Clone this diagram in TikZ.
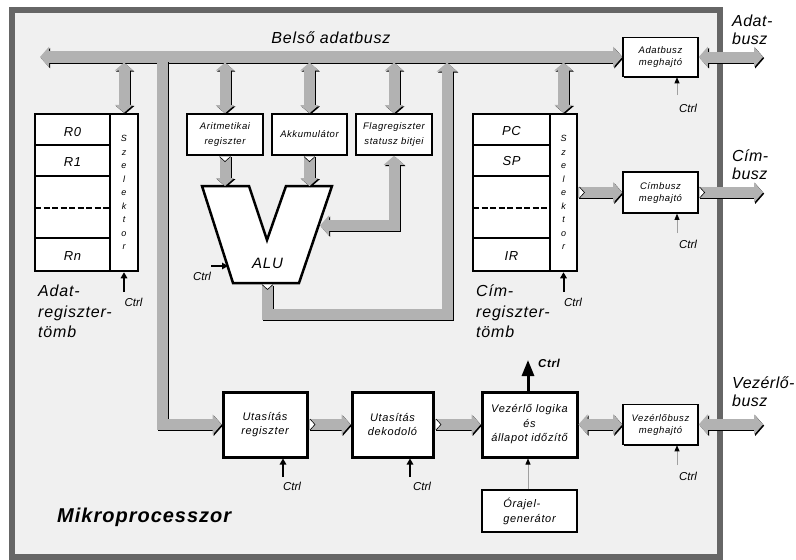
\documentclass[tikz,border=0pt]{standalone}
\usepackage{fontspec}
\setmainfont{Liberation Sans}
\newfontfamily\spA{Liberation Sans}[LetterSpace=3]
\newfontfamily\spB{Liberation Sans}[LetterSpace=5]
\newfontfamily\spC{Liberation Sans Italic}[LetterSpace=6]
\usetikzlibrary{arrows.meta,shadows}
\definecolor{bgc}{HTML}{F0F0F0}
\definecolor{framec}{HTML}{666666}
\definecolor{busgray}{HTML}{B2B2B2}
\definecolor{thinc}{HTML}{A0A0A0}
\newcommand\ftreg{\spC\fontsize{9.5}{15}\selectfont}
\newcommand\ftdrv{\spC\fontsize{9.5}{12}\selectfont}
\newcommand\ftbig{\spC\fontsize{11}{14.5}\selectfont}
\newcommand\ftora{\spC\fontsize{11}{15}\selectfont}
\newcommand\ftlbl{\spA\fontsize{16}{18}\selectfont\itshape}
\newcommand\ftlblb{\spB\fontsize{16}{20.5}\selectfont\itshape}
\newcommand\ftctrl{\fontsize{11.5}{13}\selectfont\itshape}
\newcommand\ftrn{\spB\fontsize{13}{15}\selectfont\itshape}
\newcommand\ftsel{\fontsize{9}{13.5}\selectfont\itshape}
\newcommand\busarrow[2]{%
  \draw[bus,#1,draw=black,transform canvas={shift={(1.2pt,-1.2pt)}}] #2;%
  \draw[bus,#1] #2;}
\tikzset{
  bus/.style={line width=11pt, draw=busgray, line join=miter},
  hb/.style={line width=12pt},
  bh/.style={-{Triangle[length=9pt,width=20pt]}},
  bhh/.style={{Triangle[length=9pt,width=20pt]}-{Triangle[length=9pt,width=20pt]}},
  vhh/.style={{Triangle[length=8pt,width=18pt]}-{Triangle[length=8pt,width=18pt]}},
  vh/.style={-{Triangle[length=8pt,width=18pt]}},
  smallbox/.style={draw, fill=white, line width=1.6pt, inner sep=0pt, align=center,
     drop shadow={shadow xshift=1.3pt, shadow yshift=-1.3pt, fill=black, opacity=1}},
  bigbox/.style={draw, fill=white, line width=3pt, inner sep=0pt, align=center},
  regblk/.style={draw, fill=white, line width=2.5pt, inner sep=0pt},
  rowline/.style={line width=2.2pt},
  dashrow/.style={line width=2.2pt, dash pattern=on 6pt off 2.5pt},
  ctrlthick/.style={line width=2pt, -{Triangle[length=6pt,width=6.5pt]}},
  ctrlthin/.style={line width=0.7pt, draw=thinc, -{Triangle[length=6pt,width=5pt,color=black]}},
  ctrltxt/.style={font=\ftctrl, inner sep=0pt, anchor=base},
  notch/.style={fill=white, draw=black, line width=0.6pt},
  rlbl/.style={font=\ftrn, inner sep=0pt, anchor=base},
}
\begin{document}
\begin{tikzpicture}[x=1pt,y=-1pt]
\useasboundingbox (0,0) rectangle (796,560);
\fill[white] (0,0) rectangle (796,560);
\draw[draw=framec, line width=6pt, fill=bgc] (12,10) rectangle (720,557);

% coordinates
\coordinate (busL) at (40,57);
\coordinate (bb) at (0,62.5);
\coordinate (vb) at (162,61);
\coordinate (alutop) at (0,186);
\coordinate (aluout) at (267.5,284.5);
\coordinate (aluturn) at (447,314);
\coordinate (busJ) at (447,62.5);
\coordinate (aluR) at (320,225.5);
\coordinate (adout) at (763,57);
\coordinate (cout) at (763,192.5);
\coordinate (vout) at (763,424.5);

% register blocks
\node[regblk, minimum width=103pt, minimum height=157pt] (adblk) at (86.5,192.5) {};
\node[regblk, minimum width=28pt, minimum height=157pt, font=\ftsel, align=center] (adsel) at (124,192.5) {S\\z\\e\\l\\e\\k\\t\\o\\r};
\draw[rowline] (35,145) -- (110,145);
\draw[rowline] (35,176) -- (110,176);
\draw[rowline] (35,238) -- (110,238);
\draw[dashrow] (35,208) -- (110,208);
\node[rlbl] (r0) at (72.5,136) {R0};
\node[rlbl] (r1) at (72.5,166) {R1};
\node[rlbl] (rn) at (72.5,260) {Rn};

\node[regblk, minimum width=104pt, minimum height=157pt] (cblk) at (525,192.5) {};
\node[regblk, minimum width=27pt, minimum height=157pt, font=\ftsel, align=center] (cimsel) at (563.5,192.5) {S\\z\\e\\l\\e\\k\\t\\o\\r};
\draw[rowline] (473,145) -- (550,145);
\draw[rowline] (473,176) -- (550,176);
\draw[rowline] (473,238) -- (550,238);
\draw[dashrow] (473,208) -- (550,208);
\node[rlbl] (pc) at (511.5,135) {PC};
\node[rlbl] (sp) at (511.5,165) {SP};
\node[rlbl] (ir) at (511.5,260) {IR};

% small boxes
\node[smallbox, minimum width=76pt, minimum height=41pt, font=\ftreg] (arit) at (225,134.5) {Aritmetikai\\regiszter};
\node[smallbox, minimum width=75pt, minimum height=41pt, font=\ftreg] (akku) at (309.5,134.5) {Akkumulátor};
\node[smallbox, minimum width=76pt, minimum height=41pt, font=\ftreg] (flag) at (394,134.5) {Flagregiszter\\statusz bitjei};
\node[smallbox, minimum width=75pt, minimum height=39pt, font=\ftdrv] (adm) at (660.5,57) {Adatbusz\\meghajtó};
\node[smallbox, minimum width=75pt, minimum height=41pt, font=\ftdrv] (cbm) at (660.5,192.5) {Címbusz\\meghajtó};
\node[smallbox, minimum width=75pt, minimum height=40pt, font=\ftdrv] (vbm) at (660.5,424.5) {Vezérlőbusz\\meghajtó};
\node[smallbox, minimum width=95pt, minimum height=42pt, font=\ftora, align=left] (ora) at (529.5,511) {Órajel-\\generátor};

% big boxes
\node[bigbox, minimum width=84pt, minimum height=65pt, font=\ftbig] (ureg) at (265,424.5) {Utasítás\\regiszter};
\node[bigbox, minimum width=81pt, minimum height=65pt, font=\ftbig] (udek) at (392.5,424.5) {Utasítás\\dekodoló};
\node[bigbox, minimum width=95pt, minimum height=65pt, font=\ftbig] (vlog) at (529.5,424.5) {Vezérlő logika\\és\\állapot időzítő};

% ALU
\draw[fill=white, line width=2.5pt, line join=miter] (202,186) -- (249,186) -- (267,240) -- (286,186) -- (332,186) -- (299,283) -- (233,283) -- cycle;
\node[inner sep=0pt, anchor=base, font={\spB\fontsize{15}{17}\selectfont\itshape}] (alu) at (267.5,268) {ALU};

% buses
\busarrow{bhh,hb}{(busL) -- (adm.west)}
\busarrow{bh}{(vb) |- (ureg.west)}
\busarrow{bh}{(aluout) |- (aluturn) -- (busJ)}
\busarrow{bhh}{(flag.south) |- (aluR)}
\busarrow{vhh}{(adsel.north |- bb) -- (adsel.north)}
\busarrow{vhh}{(arit.north |- bb) -- (arit.north)}
\busarrow{vhh}{(akku.north |- bb) -- (akku.north)}
\busarrow{vhh}{(flag.north |- bb) -- (flag.north)}
\busarrow{vhh}{(cimsel.north |- bb) -- (cimsel.north)}
\busarrow{vh}{(arit.south) -- (arit.south |- alutop)}
\busarrow{vh}{(akku.south) -- (akku.south |- alutop)}
\busarrow{bh}{(cimsel.east |- cbm.west) -- (cbm.west)}
\busarrow{bh}{(cbm.east) -- (cout)}
\busarrow{bhh}{(adm.east) -- (adout)}
\busarrow{bh}{(ureg.east) -- (udek.west)}
\busarrow{bh}{(udek.east) -- (vlog.west)}
\busarrow{bhh}{(vlog.east) -- (vbm.west)}
\busarrow{bhh}{(vbm.east) -- (vout)}

% notches
\draw[notch] (arit.south) ++(-5.5,0.8) -- ++(5.5,5) -- ++(5.5,-5);
\draw[notch] (akku.south) ++(-5.5,0.8) -- ++(5.5,5) -- ++(5.5,-5);
\draw[notch] (aluout) ++(-5.5,0) -- ++(5.5,5) -- ++(5.5,-5);
\draw[notch] (ureg.east) ++(1.5,-5.5) -- ++(5,5.5) -- ++(-5,5.5);
\draw[notch] (udek.east) ++(1.5,-5.5) -- ++(5,5.5) -- ++(-5,5.5);
\draw[notch] (cimsel.east |- cbm.west) ++(1.2,-5.5) -- ++(5,5.5) -- ++(-5,5.5);
\draw[notch] (cbm.east) ++(0.8,-5.5) -- ++(5,5.5) -- ++(-5,5.5);

% control arrows
\coordinate (adc) at (124,292);
\coordinate (cic) at (563.5,292);
\coordinate (urc) at (283,477);
\coordinate (udc) at (410,477);
\coordinate (aluc) at (211,266);
\coordinate (aluce) at (228,266);
\coordinate (admc) at (677,95);
\coordinate (cbmc) at (677,233);
\coordinate (vbmc) at (677,465);
\coordinate (vlc) at (528,360);
\draw[ctrlthick] (adc) -- (adsel.south);
\draw[ctrlthick] (cic) -- (cimsel.south);
\draw[ctrlthick] (urc) -- (urc |- ureg.south);
\draw[ctrlthick] (udc) -- (udc |- udek.south);
\draw[ctrlthick] (aluc) -- (aluce);
\draw[ctrlthin] (admc) -- (admc |- adm.south);
\draw[ctrlthin] (cbmc) -- (cbmc |- cbm.south);
\draw[ctrlthin] (vbmc) -- (vbmc |- vbm.south);
\draw[ctrlthin] (ora.north -| vlc) -- (vlc |- vlog.south);
\draw[line width=3pt, -{Triangle[length=16pt,width=12pt]}] (vlc |- vlog.north) -- (vlc);

\node[ctrltxt] (t1) at (133.5,306) {Ctrl};
\node[ctrltxt] (t2) at (573,306) {Ctrl};
\node[ctrltxt] (t3) at (202,280) {Ctrl};
\node[ctrltxt] (t4) at (688,112) {Ctrl};
\node[ctrltxt] (t5) at (688,248) {Ctrl};
\node[ctrltxt] (t6) at (292,490) {Ctrl};
\node[ctrltxt] (t7) at (422,490) {Ctrl};
\node[ctrltxt] (t8) at (688,480) {Ctrl};
\node[inner sep=0pt, anchor=base, font={\spB\fontsize{11.5}{13}\selectfont\bfseries\itshape}] (t9) at (549,367) {Ctrl};

% labels
\node[inner sep=0pt, anchor=base, font={\spB\fontsize{16}{18}\selectfont\itshape}] (belso) at (331,43) {Belső adatbusz};
\node[inner sep=0pt, anchor=north west, align=left, font=\ftlbl] (ladat) at (732,15) {Adat-\\busz};
\node[inner sep=0pt, anchor=north west, align=left, font=\ftlbl] (lcim) at (732,150) {Cím-\\busz};
\node[inner sep=0pt, anchor=north west, align=left, font=\ftlbl] (lvez) at (732,377) {Vezérlő-\\busz};
\node[inner sep=0pt, anchor=north west, align=left, font=\ftlblb] (ladreg) at (38,285) {Adat-\\regiszter-\\tömb};
\node[inner sep=0pt, anchor=north west, align=left, font=\ftlblb] (lcreg) at (476,285) {Cím-\\regiszter-\\tömb};
\node[inner sep=0pt, anchor=base west, font={\spB\fontsize{20}{22}\selectfont\bfseries\itshape}] (mp) at (57,522) {Mikroprocesszor};
\end{tikzpicture}
\end{document}
